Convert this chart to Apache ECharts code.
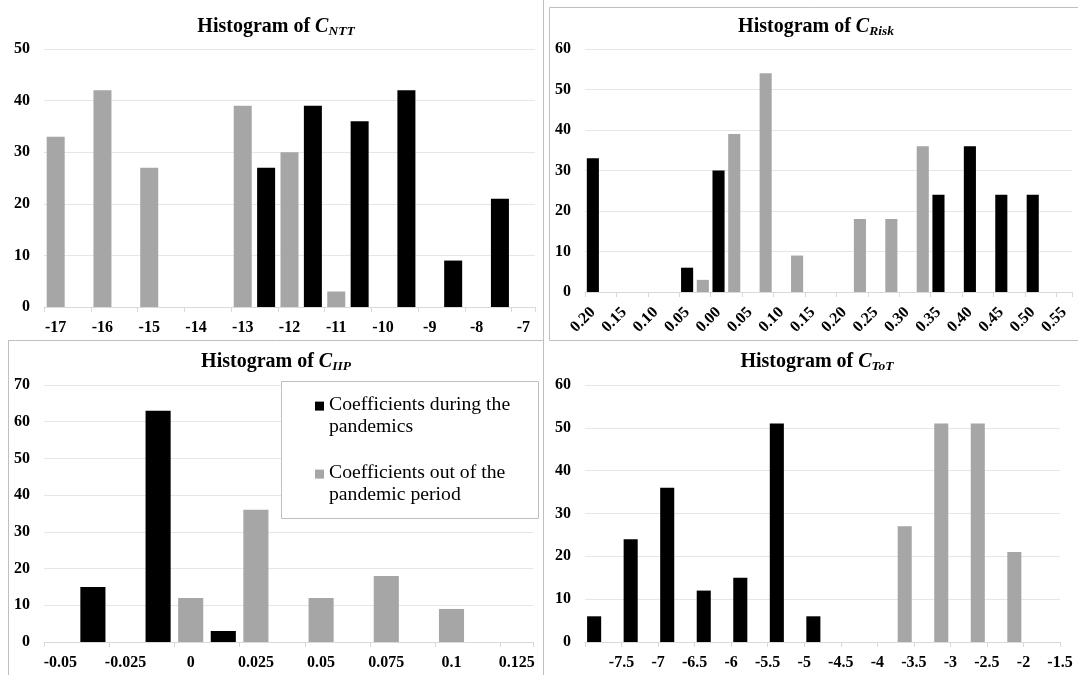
<!DOCTYPE html>
<html><head><meta charset="utf-8">
<script src="https://cdn.jsdelivr.net/npm/echarts@6/dist/echarts.min.js"></script>
<style>html,body{margin:0;padding:0;background:#fff}#c{width:1078px;height:675px}</style>
</head><body><div id="c"></div><script>
// ---- data (each category = half of a tick interval) ----
const nttTicks = ['-17','-16','-15','-14','-13','-12','-11','-10','-9','-8','-7'];
const nttBlack = [null,null,null,null,null,null,null,null,null,27,null,39,null,36,null,42,null,9,null,21,null];
const nttGray  = [33,null,42,null,27,null,null,null,39,null,30,null,3,null,null,null,null,null,null,null,null];

const riskTicks = ['0.20','0.15','0.10','0.05','0.00','0.05','0.10','0.15','0.20','0.25','0.30','0.35','0.40','0.45','0.50','0.55'];
const riskBlack = [33,null,null,null,null,null,6,null,30,null,null,null,null,null,null,null,null,null,null,null,null,null,24,null,36,null,24,null,24,null,null];
const riskGray  = [null,null,null,null,null,null,null,3,null,39,null,54,null,9,null,null,null,18,null,18,null,36,null,null,null,null,null,null,null,null,null];

const iipTicks = ['-0.05','-0.025','0','0.025','0.05','0.075','0.1','0.125'];
const iipBlack = [null,15,null,63,null,3,null,null,null,null,null,null,null,null,null];
const iipGray  = [null,null,null,null,12,null,36,null,12,null,18,null,9,null,null];

const totTicks = ['','-7.5','-7','-6.5','-6','-5.5','-5','-4.5','-4','-3.5','-3','-2.5','-2','-1.5'];
const totBlack = [6,null,24,null,36,null,12,null,15,null,51,null,6,null,null,null,null,null,null,null,null,null,null,null,null,null];
const totGray  = [null,null,null,null,null,null,null,null,null,null,null,null,null,null,null,null,null,27,null,51,null,51,null,21,null,null];

const SERIES_BLACK = 'Coefficients during the\npandemics';
const SERIES_GRAY = 'Coefficients out of the\npandemic period';

// ---- layout ----
const FONT = '"Liberation Serif", "Times New Roman", serif';
const panels = [
  {sub:'NTT', ticks:nttTicks, black:nttBlack, gray:nttGray, max:50, grid:{left:44, top:49, width:491, height:258}, tx:276, ty:15, mode:'cat'},
  {sub:'Risk', ticks:riskTicks, black:riskBlack, gray:riskGray, max:60, grid:{left:585, top:49, width:487, height:243}, tx:816, ty:15, mode:'rot'},
  {sub:'IIP', ticks:iipTicks, black:iipBlack, gray:iipGray, max:70, grid:{left:44, top:385, width:489, height:257}, tx:276, ty:350, mode:'cat'},
  {sub:'ToT', ticks:totTicks, black:totBlack, gray:totGray, max:60, grid:{left:585, top:385, width:475, height:257}, tx:817, ty:350, mode:'sep'}
];

const labelFont = {fontFamily:FONT, fontWeight:'bold', fontSize:16, color:'#000'};
const option = {
  backgroundColor:'#fff', animation:false,
  title:[], grid:[], xAxis:[], yAxis:[], series:[],
  legend:{
    left:315, top:394, orient:'vertical', padding:0, itemWidth:9, itemHeight:29, itemGap:24,
    icon:'path://M0,0H10V10H0Z M0,32L0,32', selectedMode:false, z:10,
    data:[SERIES_BLACK, SERIES_GRAY],
    textStyle:{fontFamily:FONT, fontSize:19.7, lineHeight:22, color:'#000'}
  },
  graphic:[
    {type:'line', shape:{x1:543.5,y1:0,x2:543.5,y2:675}, style:{stroke:'#bfbfbf', lineWidth:1}},
    {type:'line', shape:{x1:8,y1:340.5,x2:543,y2:340.5}, style:{stroke:'#bfbfbf', lineWidth:1}},
    {type:'rect', shape:{x:549.5,y:7.5,width:540,height:333}, style:{fill:'none', stroke:'#bfbfbf', lineWidth:1}},
    {type:'line', shape:{x1:8.5,y1:340,x2:8.5,y2:675}, style:{stroke:'#bfbfbf', lineWidth:1}},
    {type:'rect', z:3, shape:{x:281.5,y:381.5,width:257,height:137}, style:{fill:'#fff', stroke:'#bfbfbf', lineWidth:1}}
  ]
};

const even = (i) => i % 2 === 0;
panels.forEach((p, k) => {
  option.grid.push(Object.assign({containLabel:false}, p.grid));
  option.title.push({
    text:'Histogram of {c|C}{s|' + p.sub + '}', left:p.tx, top:p.ty, textAlign:'center', padding:0,
    textStyle:{fontFamily:FONT, fontWeight:'bold', fontSize:20, color:'#000',
      rich:{
        c:{fontFamily:FONT, fontWeight:'bold', fontStyle:'italic', fontSize:20, color:'#000'},
        s:{fontFamily:FONT, fontWeight:'bold', fontStyle:'italic', fontSize:13.5, color:'#000', padding:[10,0,0,0]}
      }}
  });
  const n = p.black.length;
  const catData = Array.from({length:n}, (_, i) => (i % 2 === 0 && i / 2 < p.ticks.length) ? p.ticks[i / 2] : '');
  const barAxisIndex = option.xAxis.length;
  option.xAxis.push({
    type:'category', gridIndex:k, data:catData, position:'bottom', boundaryGap:true,
    axisLine:{lineStyle:{color:'#d9d9d9'}},
    axisTick:{show:true, interval:even, length:5, lineStyle:{color:'#d9d9d9'}},
    axisLabel: p.mode === 'sep' ? {show:false} :
      Object.assign({show:true, interval:even, rotate:p.mode === 'rot' ? 45 : 0, margin:p.mode === 'rot' ? 18 : 13}, labelFont),
    splitLine:{show:false}
  });
  if (p.mode === 'sep') {
    option.xAxis.push({
      type:'category', gridIndex:k, data:p.ticks, position:'bottom', boundaryGap:false,
      axisLine:{show:false}, axisTick:{show:false},
      axisLabel:Object.assign({show:true, interval:0, margin:13}, labelFont),
      splitLine:{show:false}
    });
  }
  option.yAxis.push({
    type:'value', gridIndex:k, min:0, max:p.max, interval:10,
    axisLine:{show:false}, axisTick:{show:false},
    axisLabel:Object.assign({margin:14}, labelFont),
    splitLine:{lineStyle:{color:'#e6e6e6'}}
  });
  option.series.push({
    name:SERIES_GRAY, type:'bar', xAxisIndex:barAxisIndex, yAxisIndex:k, data:p.gray,
    barGap:'-100%', barCategoryGap:'23%', itemStyle:{color:'#a6a6a6'}
  });
  option.series.push({
    name:SERIES_BLACK, type:'bar', xAxisIndex:barAxisIndex, yAxisIndex:k, data:p.black,
    barGap:'-100%', barCategoryGap:'23%', itemStyle:{color:'#000000'}
  });
});

const chart = echarts.init(document.getElementById('c'), null, {renderer:'canvas'});
chart.setOption(option);
</script></body></html>
